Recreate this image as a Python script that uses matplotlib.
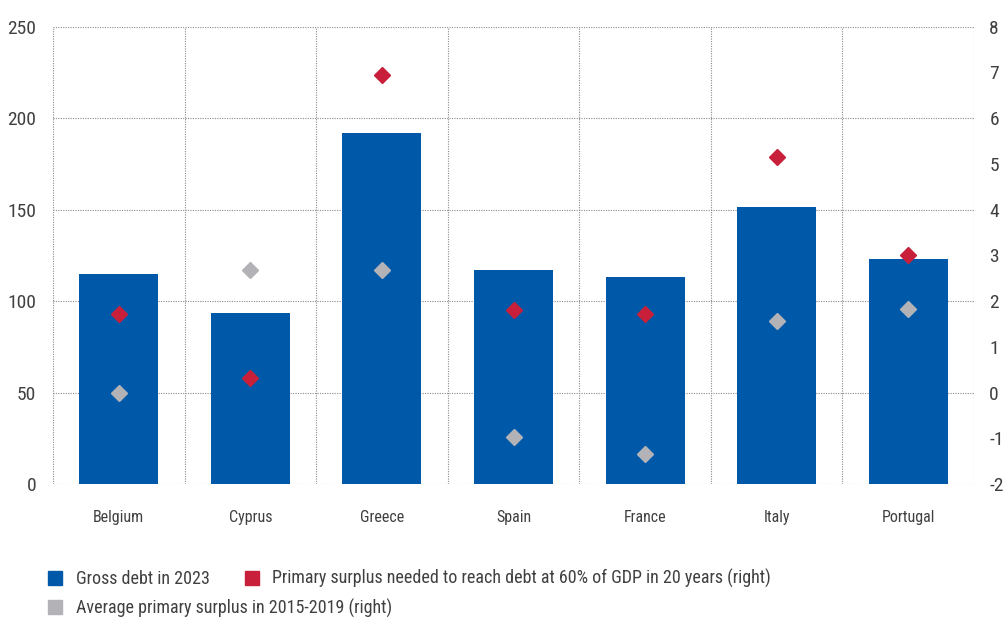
import matplotlib
matplotlib.use("Agg")
import matplotlib.pyplot as plt
from matplotlib.lines import Line2D
from matplotlib import font_manager

# the reference uses a condensed face; take the narrowest one that is installed
installed = {f.name for f in font_manager.fontManager.ttflist}
narrow = [f for f in ["Roboto Condensed", "Liberation Sans Narrow", "Open Sans Condensed",
                      "Lato"] if f in installed]
plt.rcParams["font.family"] = narrow + ["DejaVu Sans"]

countries = ["Belgium", "Cyprus", "Greece", "Spain", "France", "Italy", "Portugal"]
gross_debt_2023 = [114.6, 93.3, 192.1, 116.8, 113.0, 151.2, 122.8]
surplus_needed = [1.71, 0.31, 6.95, 1.8, 1.71, 5.15, 3.0]
surplus_avg_2015_2019 = [0.0, 2.67, 2.67, -0.97, -1.34, 1.56, 1.82]

left_ticks = [0, 50, 100, 150, 200, 250]
right_ticks = [-2, -1, 0, 1, 2, 3, 4, 5, 6, 7, 8]

BLUE = "#0059A8"
RED = "#C8203A"
GRAY = "#B3B3B7"
TEXT = "#404040"
GRID = "#8a8a8a"

fig = plt.figure(figsize=(10.08, 6.25), dpi=100)
ax = fig.add_axes([0.0526, 0.2256, 0.9137, 0.7317])
ax2 = ax.twinx()

x = list(range(len(countries)))
ax.bar(x, gross_debt_2023, width=0.6, color=BLUE, zorder=2)
ax.set_xlim(-0.5, len(countries) - 0.5)
ax.set_ylim(0, 250)
ax.set_yticks(left_ticks)
ax.set_xticks(x)
ax.set_xticklabels(countries)

# dotted grid, drawn by hand so the frame matches
for v in left_ticks:
    ax.axhline(v, color=GRID, lw=0.8, ls=(0, (1, 1.2)), zorder=1)
for b in [i - 0.5 for i in range(len(countries) + 1)]:
    ax.axvline(b, color=GRID, lw=0.8, ls=(0, (1, 1.2)), zorder=1)

ax2.plot(x, surplus_needed, "D", color=RED, markersize=8.5, ls="", zorder=3)
ax2.plot(x, surplus_avg_2015_2019, "D", color=GRAY, markersize=8.5, ls="", zorder=3)
ax2.set_ylim(-2, 8)
ax2.set_yticks(right_ticks)
ax2.set_yticklabels([str(t) for t in right_ticks])

for a in (ax, ax2):
    for s in a.spines.values():
        s.set_visible(False)
ax.tick_params(axis="y", length=0, pad=12, labelsize=14, labelcolor=TEXT)
ax.tick_params(axis="x", length=0, pad=19, labelsize=11.5, labelcolor=TEXT)
ax2.tick_params(axis="y", length=0, pad=11, labelsize=14, labelcolor=TEXT)

# legend: two rows, laid out by hand
def sq(color):
    return Line2D([], [], marker="s", ls="", color=color, markersize=10)

leg1 = fig.legend(
    [sq(BLUE), sq(RED)],
    ["Gross debt in 2023",
     "Primary surplus needed to reach debt at 60% of GDP in 20 years (right)"],
    loc="center left", bbox_to_anchor=(0.029, 0.074), ncol=2, frameon=False,
    fontsize=13, labelcolor=TEXT, handletextpad=0.6, columnspacing=1.75,
    handlelength=1.1,
)
leg2 = fig.legend(
    [sq(GRAY)], ["Average primary surplus in 2015-2019 (right)"],
    loc="center left", bbox_to_anchor=(0.029, 0.027), frameon=False,
    fontsize=13, labelcolor=TEXT, handletextpad=0.6, handlelength=1.1,
)

fig.savefig("out.png", dpi=100)
